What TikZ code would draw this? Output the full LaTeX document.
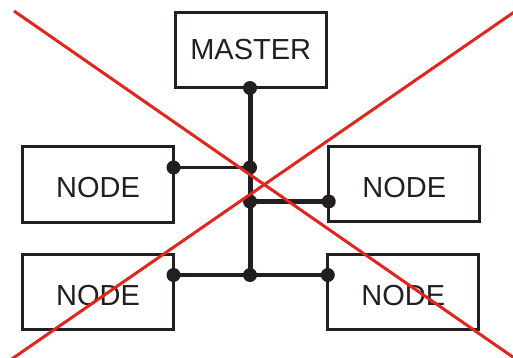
\documentclass[tikz,border=0pt]{standalone}
\usepackage{fontspec}
\setmainfont{Liberation Sans}
\definecolor{ink}{RGB}{35,31,32}
\definecolor{crossred}{RGB}{226,38,30}
\begin{document}
\begin{tikzpicture}[x=1pt,y=-1pt,
  box/.style={draw=ink, line width=3pt, minimum width=151pt, minimum height=75pt,
    inner sep=0pt, outer sep=0pt, font=\fontsize{29}{34}\selectfont, text=ink},
  nodebox/.style={box, text height=26.6pt, text depth=0pt},
  dot/.style={circle, fill=ink, inner sep=0pt, minimum size=14pt},
  bus/.style={draw=ink, line width=5pt},
  link/.style={draw=ink, line width=4.5pt},
  thinlink/.style={draw=ink, line width=3pt},
  cross/.style={draw=crossred, line width=3pt}]
\useasboundingbox (0,0) rectangle (513,358);
\clip (0,0) rectangle (513,358);
\node[box] (master) at (250.7,50) {MASTER};
\node[nodebox] (n1) at (98,184.5) {NODE};
\node[nodebox] (n2) at (404.2,184.2) {NODE};
\node[nodebox] (n3) at (98,291.7) {NODE};
\node[nodebox] (n4) at (403.3,292.2) {NODE};
\coordinate (j0) at (250,88);
\coordinate (j1) at (250,167.5);
\coordinate (j2) at (250,201.5);
\coordinate (j3) at (250,275);
\coordinate (e1) at (n1.east |- j1);
\coordinate (e2) at (n2.west |- j2);
\coordinate (e3) at (n3.east |- j3);
\coordinate (e4) at (n4.west |- j3);
\draw[bus] (j0) -- (j3);
\draw[thinlink] (e1) -- (j1);
\draw[link] (j2) -- (e2);
\draw[link] (e3) -- (e4);
\foreach \p in {j0,j1,j2,j3,e1,e2,e3,e4} \node[dot] (d\p) at (\p) {};
\coordinate (c1a) at (14,11);
\coordinate (c1b) at (520,362);
\coordinate (c2a) at (11,359.5);
\coordinate (c2b) at (520,8);
\draw[cross] (c1a) -- (c1b);
\draw[cross] (c2a) -- (c2b);
\end{tikzpicture}
\end{document}
